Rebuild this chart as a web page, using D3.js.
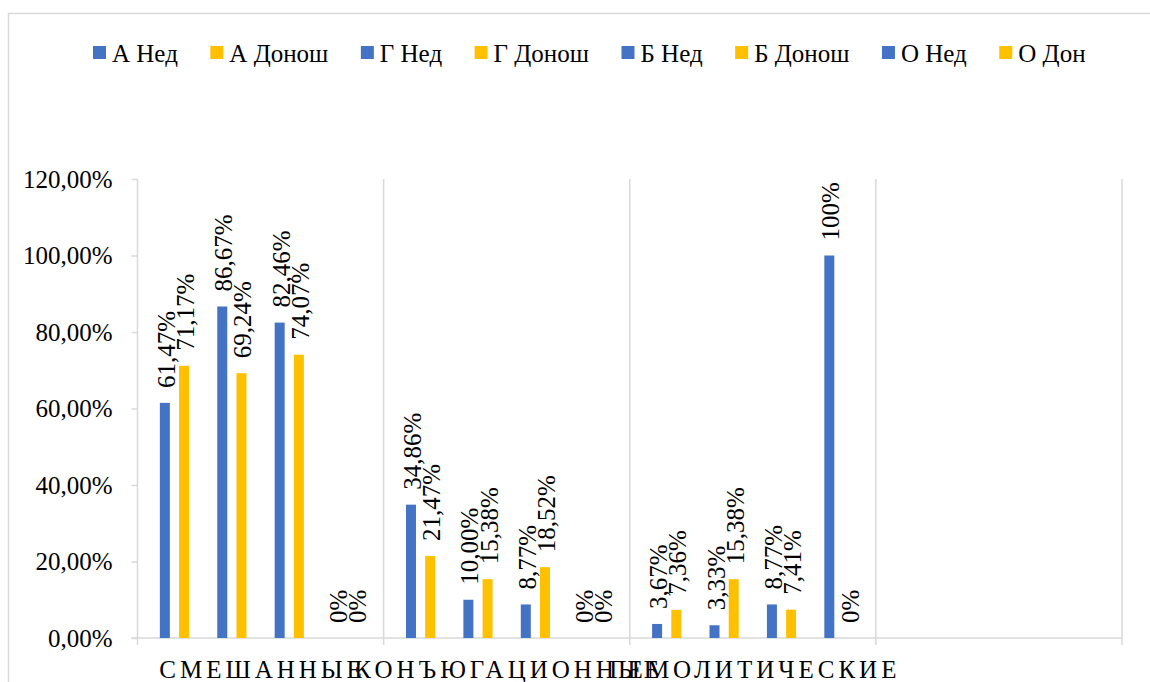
<!DOCTYPE html>
<html>
<head>
<meta charset="utf-8">
<script src="https://cdn.jsdelivr.net/npm/d3@7"></script>
<style>
  html, body { margin: 0; padding: 0; background: #fff; }
  svg text { font-family: "Liberation Serif", "Times New Roman", "DejaVu Serif", serif; }
</style>
</head>
<body>
<svg id="chart" width="1150" height="682"></svg>
<script>
// Categories along the x axis (the last band is left empty)
const categories = ["СМЕШАННЫЕ", "КОНЪЮГАЦИОННЫЕ", "ГЕМОЛИТИЧЕСКИЕ", ""];

// Series values, in percent, one entry per category
const aNed = [61.47, 34.86, 3.67, null];
const aDon = [71.17, 21.47, 7.36, null];
const gNed = [86.67, 10.00, 3.33, null];
const gDon = [69.24, 15.38, 15.38, null];
const bNed = [82.46, 8.77, 8.77, null];
const bDon = [74.07, 18.52, 7.41, null];
const oNed = [0, 0, 100, null];
const oDon = [0, 0, 0, null];

// Series names as shown in the legend
const seriesNames = ["А Нед", "А Донош", "Г Нед", "Г Донош", "Б Нед", "Б Донош", "О Нед", "О Дон"];
// Bar groups (pairs of series) inside each category
const groups = ["А", "Г", "Б", "О"];
// Y axis tick values
const yTicks = [0, 0.2, 0.4, 0.6, 0.8, 1.0, 1.2];

const FONT = "'Liberation Serif', 'Times New Roman', 'DejaVu Serif', serif";
const seriesValues = [aNed, aDon, gNed, gDon, bNed, bDon, oNed, oDon];
const COLORS = { ned: "#4472C4", don: "#FFC000" };
const GRID = "#d9d9d9";

const series = seriesNames.map((name, i) => ({
  name,
  group: groups[Math.floor(i / 2)],
  kind: i % 2 === 0 ? "ned" : "don",
  wholePercent: i >= 6,
  values: seriesValues[i]
}));

const svg = d3.select("#chart");

// Outer chart frame
svg.append("rect")
  .attr("x", 8.5).attr("y", 13.5)
  .attr("width", 1200).attr("height", 700)
  .attr("fill", "none").attr("stroke", GRID).attr("stroke-width", 1.5);

const plot = { left: 137.5, right: 1122, top: 179, bottom: 638 };

const y = d3.scaleLinear().domain([0, 1.2]).range([plot.bottom, plot.top]);

const x0 = d3.scaleBand().domain(categories).range([plot.left, plot.right]).padding(0);
const xGroup = d3.scaleBand().domain(groups).range([0, x0.bandwidth()])
  .paddingInner(0).paddingOuter(0.1437);
const pairHalf = 19.2;
const xSub = d3.scaleBand().domain(["ned", "don"]).range([0, 2 * pairHalf])
  .paddingInner(1 - 10 / pairHalf).paddingOuter((1 - 10 / pairHalf) / 2);

// Category separators (vertical gridlines)
const bounds = categories.map(c => x0(c)).concat([plot.right]);
svg.append("g").selectAll("line").data(bounds).join("line")
  .attr("x1", d => d).attr("x2", d => d)
  .attr("y1", plot.top).attr("y2", plot.bottom + 7)
  .attr("stroke", GRID).attr("stroke-width", 1.5);

// Baseline
svg.append("line")
  .attr("x1", plot.left - 6).attr("x2", plot.right)
  .attr("y1", y(0)).attr("y2", y(0))
  .attr("stroke", GRID).attr("stroke-width", 1.5);

// Y axis
const yAxis = d3.axisLeft(y)
  .tickValues(yTicks)
  .tickSize(6)
  .tickPadding(19)
  .tickFormat(v => d3.format(".2f")(v * 100).replace(".", ",") + "%");
const yG = svg.append("g").attr("transform", `translate(${plot.left},0)`).call(yAxis)
  .attr("font-family", FONT);
yG.select(".domain").remove();
yG.selectAll(".tick line").attr("stroke", GRID).attr("stroke-width", 1.5);
yG.selectAll(".tick text")
  .attr("font-family", FONT)
  .attr("font-size", 25)
  .attr("fill", "#000")
  .attr("dy", "0.33em");

// X axis category labels
svg.append("g").selectAll("text").data(categories).join("text")
  .attr("x", d => x0(d) + x0.bandwidth() / 2 + 2)
  .attr("y", 678)
  .attr("text-anchor", "middle")
  .attr("font-family", FONT)
  .attr("font-size", 25)
  .attr("letter-spacing", "4px")
  .attr("fill", "#000")
  .text(d => d);

// Bars and rotated value labels
const barX = (s, c) => x0(c) + xGroup(s.group) + xGroup.bandwidth() / 2 - pairHalf + xSub(s.kind);
const fmt = (s, v) => s.wholePercent
  ? d3.format(".0f")(v) + "%"
  : d3.format(".2f")(v).replace(".", ",") + "%";

const points = [];
series.forEach(s => {
  categories.forEach((c, ci) => {
    const v = s.values[ci];
    if (v === null || v === undefined) return;
    points.push({ s, c, v });
  });
});

svg.append("g").selectAll("rect").data(points).join("rect")
  .attr("x", d => barX(d.s, d.c))
  .attr("width", xSub.bandwidth())
  .attr("y", d => y(d.v / 100))
  .attr("height", d => y(0) - y(d.v / 100))
  .attr("fill", d => COLORS[d.s.kind]);

svg.append("g").selectAll("text").data(points).join("text")
  .attr("transform", d => {
    const cx = barX(d.s, d.c) + xSub.bandwidth() / 2 + 10;
    const cy = y(d.v / 100) - 15;
    return `translate(${cx},${cy}) rotate(-90)`;
  })
  .attr("font-family", FONT)
  .attr("font-size", 25)
  .attr("fill", "#000")
  .text(d => fmt(d.s, d.v));

// Legend
const legend = svg.append("g");
let lx = 93;
series.forEach(s => {
  const item = legend.append("g").attr("transform", `translate(${lx},0)`);
  item.append("rect")
    .attr("x", 0).attr("y", 46).attr("width", 13).attr("height", 13)
    .attr("fill", COLORS[s.kind]);
  const t = item.append("text")
    .attr("x", 19).attr("y", 62)
    .attr("font-family", FONT)
    .attr("font-size", 25)
    .attr("fill", "#000")
    .text(s.name);
  lx += 19 + t.node().getComputedTextLength() + 32.5;
});
</script>
</body>
</html>
